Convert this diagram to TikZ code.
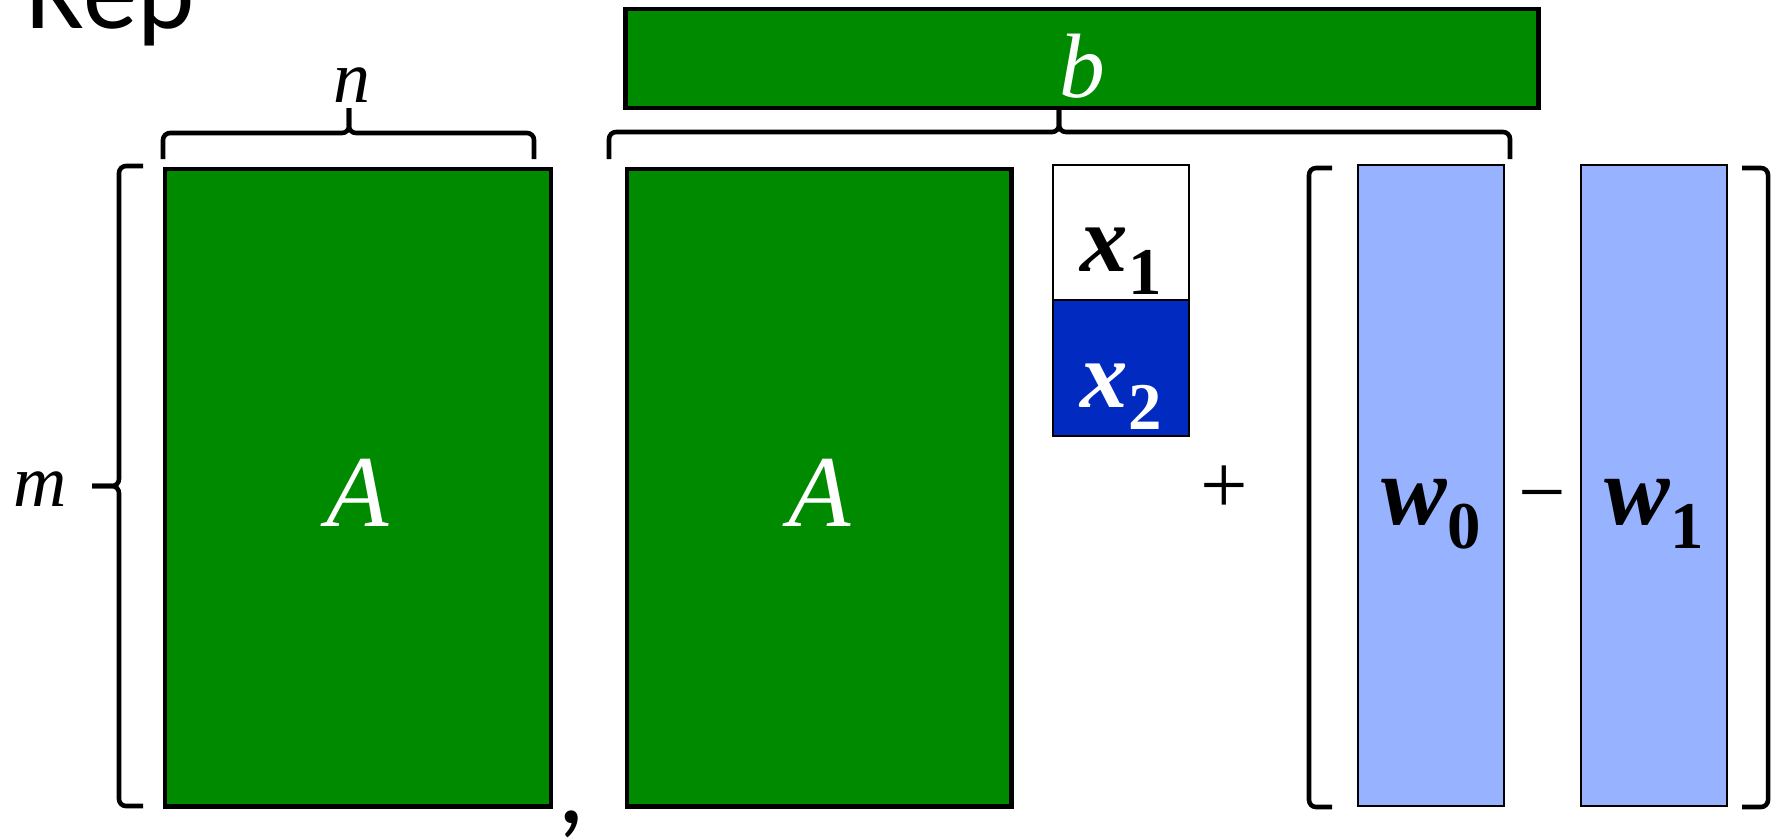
\documentclass[tikz,border=0pt]{standalone}
\usepackage{fontspec}
\setmainfont{Liberation Serif}
\newfontfamily\repfont{Carlito}
\usetikzlibrary{positioning,calc}

\definecolor{matgreen}{RGB}{0,138,0}
\definecolor{xblue}{RGB}{0,42,192}
\definecolor{wblue}{RGB}{151,178,255}
\newcommand\fsz[1]{\fontsize{#1}{#1}\selectfont}
\newcommand\vsub[2]{\textbf{\textit{#1}}\raisebox{-0.24em}{\fsz{19}\textbf{#2}}}

\begin{document}
\begin{tikzpicture}[x=0.01cm,y=-0.01cm,
  mat/.style={draw,line width=1.3pt,fill=matgreen,inner sep=0pt,outer sep=0pt},
  xcell/.style={draw,line width=0.5pt,inner sep=0pt,outer sep=0pt,minimum width=1.36cm,minimum height=1.355cm},
  wcol/.style={draw,line width=0.6pt,fill=wblue,inner sep=0pt,outer sep=0pt,minimum width=1.46cm,minimum height=6.41cm},
  lab/.style={anchor=base,yshift=-0.39cm,inner sep=0pt},
  brc/.style={line width=1.3pt,rounded corners=0.07cm},
  bkt/.style={line width=1.3pt,rounded corners=2pt}]
\useasboundingbox (0,0) rectangle (1777,838);
\node[anchor=base west,inner sep=0pt,font=\repfont\fsz{31}] (rep) at (25,28) {Rep};
% A and b
\node[mat,minimum width=3.86cm,minimum height=6.37cm] (A1) at (358,487.5) {};
\node[mat,minimum width=3.84cm,minimum height=6.37cm,right=0.76cm of A1] (A2) {};
\node[mat,minimum width=9.12cm,minimum height=0.99cm] (b) at (1082,58.5) {};
\node[lab,text=white,font=\fsz{29}\itshape] (A1t) at (A1) {A};
\node[lab,text=white,font=\fsz{29}\itshape] (A2t) at (A2) {A};
\node[lab,text=white,font=\fsz{26}\itshape] (bt) at (b) {b};
% x
\node[xcell] (x1) at (1121,232.5) {};
\node[xcell,fill=xblue,below=0pt of x1] (x2) {};
\node[lab,font=\fsz{27}] (x1t) at (x1) {\vsub{x}{1}};
\node[lab,font=\fsz{27},text=white] (x2t) at (x2) {\vsub{x}{2}};
% w
\node[wcol] (w0) at (1431,485.5) {};
\node[wcol,right=0.77cm of w0] (w1) {};
\node[lab,font=\fsz{28}] (w0t) at (w0) {\vsub{w}{0}};
\node[lab,font=\fsz{28}] (w1t) at (w1) {\vsub{w}{1}};
\node[font=\fsz{24}] (plus) at (1224,490) {+};
\node[font=\fsz{24},yshift=-0.2cm] (minus) at ($(w0.east)!0.5!(w1.west)$) {−};
\node[anchor=base,inner sep=0pt,font=\repfont\fsz{32}] (comma) at (572,823) {,};
% braces
\draw[brc] (163,159) -- (163,133) -- (349,133) -- (349,108);
\draw[brc] (534,159) -- (534,133) -- (349,133) -- (349,108);
\draw[brc] (609,159) -- (609,132) -- (1059,132) -- (b.south -| 1059,0);
\draw[brc] (1510,159) -- (1510,132) -- (1059,132) -- (b.south -| 1059,0);
\draw[brc] (143,166) -- (119,166) -- (119,486) -- (92,486);
\draw[brc] (143,806) -- (119,806) -- (119,486) -- (92,486);
\node[font=\fsz{21}\itshape] (nlab) at (352,85) {n};
\node[font=\fsz{21}\itshape] (mlab) at (40,489) {m};
% brackets
\draw[bkt] (1332,168) -- (1309,168) -- (1309,807) -- (1332,807);
\draw[bkt] (1742,168) -- (1768,168) -- (1768,807) -- (1742,807);
\end{tikzpicture}
\end{document}
